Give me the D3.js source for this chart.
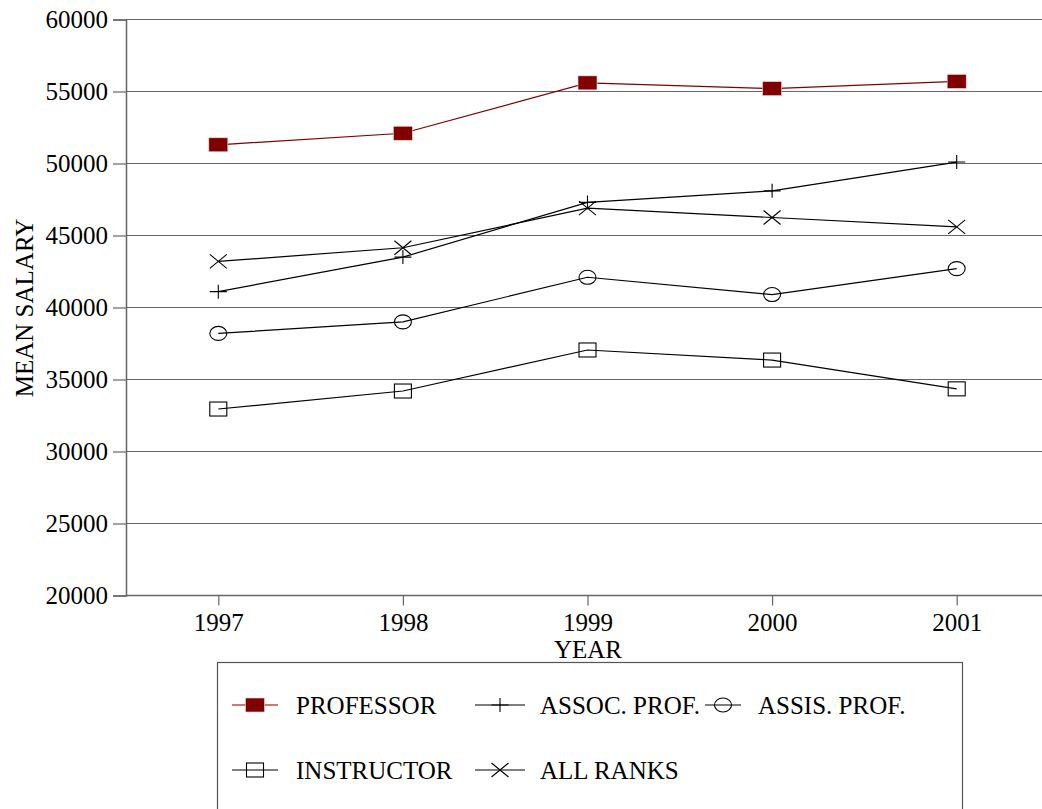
<!DOCTYPE html>
<html>
<head>
<meta charset="utf-8">
<script src="https://cdn.jsdelivr.net/npm/d3@7"></script>
<style>
  body { margin: 0; background: #fff; }
  text { font-family: "Liberation Serif", "Times New Roman", serif; }
</style>
</head>
<body>
<script>
// data
var years = ["1997", "1998", "1999", "2000", "2001"];
var professor  = [51300, 52100, 55600, 55200, 55700];
var assocProf  = [41100, 43500, 47300, 48100, 50100];
var assisProf  = [38200, 39000, 42100, 40900, 42700];
var instructor = [32950, 34200, 37050, 36350, 34350];
var allRanks   = [43200, 44150, 46900, 46250, 45600];
var yTicks = [20000, 25000, 30000, 35000, 40000, 45000, 50000, 55000, 60000];

var series = [
    {name: "PROFESSOR",    values: professor,  marker: "fsquare", color: "#800000"},
    {name: "ASSOC. PROF.", values: assocProf,  marker: "plus",    color: "#000"},
    {name: "ASSIS. PROF.", values: assisProf,  marker: "circle",  color: "#000"},
    {name: "INSTRUCTOR",   values: instructor, marker: "square",  color: "#000"},
    {name: "ALL RANKS",    values: allRanks,   marker: "cross",   color: "#000"}
];

var width = 1042;
var height = 809;
var plotLeft = 126, plotTop = 19.5, plotBottom = 595.5;
var fontSize = 25;

var svg = d3.select("body").append("svg")
    .attr("width", width)
    .attr("height", height);

var x = d3.scalePoint().domain(years).range([plotLeft, 1049]).padding(0.5);
var y = d3.scaleLinear().domain([20000, 60000]).range([plotBottom, plotTop]);

// gridlines
svg.append("g").selectAll("line")
    .data(yTicks.slice(1))
    .enter().append("line")
    .attr("x1", plotLeft).attr("x2", width)
    .attr("y1", d => y(d)).attr("y2", d => y(d))
    .attr("stroke", "#666").attr("stroke-width", 1.2);

// y axis
var yAxis = svg.append("g")
    .attr("transform", "translate(" + plotLeft + ",0)")
    .call(d3.axisLeft(y).tickValues(yTicks).tickSize(13).tickPadding(5).tickFormat(d3.format("d")));
yAxis.select(".domain").attr("stroke", "#666").attr("stroke-width", 1.5);
yAxis.selectAll(".tick line").attr("stroke", "#666").attr("stroke-width", 1.2);
yAxis.selectAll("text").attr("font-size", fontSize).attr("fill", "#000")
    .attr("font-family", "Liberation Serif");

// x axis
var xAxis = svg.append("g")
    .attr("transform", "translate(0," + plotBottom + ")")
    .call(d3.axisBottom(x).tickSize(10).tickSizeOuter(0).tickPadding(8));
xAxis.select(".domain").attr("stroke", "#666").attr("stroke-width", 1.5)
    .attr("d", "M" + plotLeft + ",0H" + width);
xAxis.selectAll(".tick line").attr("stroke", "#666").attr("stroke-width", 1.2);
xAxis.selectAll("text").attr("font-size", fontSize).attr("fill", "#000")
    .attr("font-family", "Liberation Serif");

svg.append("text")
    .attr("x", 588).attr("y", 658)
    .attr("text-anchor", "middle")
    .attr("font-size", fontSize)
    .text("YEAR");

svg.append("text")
    .attr("transform", "translate(33,308) rotate(-90)")
    .attr("text-anchor", "middle")
    .attr("font-size", fontSize)
    .text("MEAN SALARY");

// marker drawing, markers are a bit wider than tall
var mw = 8.5, mh = 7;
function drawMarker(g, type, color) {
    if (type == "fsquare") {
        g.append("rect").attr("x", -9.5).attr("y", -7).attr("width", 19).attr("height", 14)
            .attr("fill", color).attr("stroke", "#f4d8d8").attr("stroke-width", 0.6);
    } else if (type == "square") {
        g.append("rect").attr("x", -mw).attr("y", -mh).attr("width", mw * 2).attr("height", mh * 2)
            .attr("fill", "none").attr("stroke", color).attr("stroke-width", 1.1);
    } else if (type == "circle") {
        g.append("ellipse").attr("rx", mw).attr("ry", mh)
            .attr("fill", "none").attr("stroke", color).attr("stroke-width", 1.1);
    } else if (type == "plus") {
        g.append("path").attr("d", "M" + (-mw) + ",0H" + mw + "M0," + (-mh) + "V" + mh)
            .attr("stroke", color).attr("stroke-width", 1.1).attr("fill", "none");
    } else if (type == "cross") {
        g.append("path").attr("d", "M" + (-mw) + "," + (-mh) + "L" + mw + "," + mh +
                                   "M" + (-mw) + "," + mh + "L" + mw + "," + (-mh))
            .attr("stroke", color).attr("stroke-width", 1.1).attr("fill", "none");
    }
}

var line = d3.line()
    .x((d, i) => x(years[i]))
    .y(d => y(d));

series.forEach(function(s) {
    svg.append("path")
        .datum(s.values)
        .attr("d", line)
        .attr("fill", "none")
        .attr("stroke", s.color)
        .attr("stroke-width", 1.2);
    s.values.forEach(function(v, i) {
        var g = svg.append("g").attr("transform", "translate(" + x(years[i]) + "," + y(v) + ")");
        drawMarker(g, s.marker, s.color);
    });
});

// legend
svg.append("rect")
    .attr("x", 217.5).attr("y", 662.5)
    .attr("width", 745).attr("height", 160)
    .attr("fill", "none").attr("stroke", "#555").attr("stroke-width", 1.2);

var legendPos = [[232, 705], [475, 705], [705, 705], [232, 770], [475, 770]];
var lineLen = [46, 50, 36, 46, 50];
var textX = [296, 540, 758, 296, 540];
series.forEach(function(s, i) {
    var lx = legendPos[i][0], ly = legendPos[i][1];
    svg.append("line")
        .attr("x1", lx).attr("x2", lx + lineLen[i])
        .attr("y1", ly).attr("y2", ly)
        .attr("stroke", s.color).attr("stroke-width", 1.2);
    var g = svg.append("g").attr("transform", "translate(" + (lx + lineLen[i] / 2) + "," + ly + ")");
    drawMarker(g, s.marker, s.color);
    svg.append("text")
        .attr("x", textX[i]).attr("y", ly + 8.5)
        .attr("font-size", fontSize)
        .text(s.name);
});
</script>
</body>
</html>
